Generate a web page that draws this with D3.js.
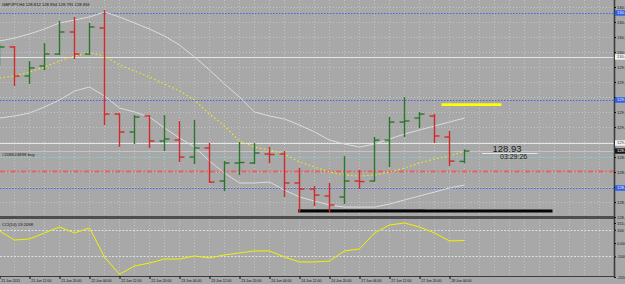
<!DOCTYPE html>
<html>
<head>
<meta charset="utf-8">
<script src="https://cdn.jsdelivr.net/npm/d3@7"></script>
<style>
  body { margin: 0; background: #a8a8a8; }
  svg { display: block; font-family: "Liberation Sans", Arial, sans-serif; }
</style>
</head>
<body>
<svg id="drawing_region"></svg>
<script>
// GBPJPY H4 bars, one entry per bar
const times = ["21 Jun 04:00", "21 Jun 08:00", "21 Jun 12:00", "21 Jun 16:00", "21 Jun 20:00", "22 Jun 00:00",
    "22 Jun 04:00", "22 Jun 08:00", "22 Jun 12:00", "22 Jun 16:00", "22 Jun 20:00", "23 Jun 00:00",
    "23 Jun 04:00", "23 Jun 08:00", "23 Jun 12:00", "23 Jun 16:00", "23 Jun 20:00", "24 Jun 00:00",
    "24 Jun 04:00", "24 Jun 08:00", "24 Jun 12:00", "24 Jun 16:00", "24 Jun 20:00", "27 Jun 00:00",
    "27 Jun 04:00", "27 Jun 08:00", "27 Jun 12:00", "27 Jun 16:00", "27 Jun 20:00", "28 Jun 00:00",
    "28 Jun 04:00", "28 Jun 08:00"];
const open = [130.005, 130.158, 129.816, 129.934, 130.075, 130.334, 130.075, 130.381, 129.369, 129.158, 129.346,
    129.052, 129.063, 128.863, 128.969, 128.581, 128.793, 128.793, 128.899, 128.899, 128.558, 128.487, 128.405,
    128.393, 128.581, 128.581, 129.063, 129.275, 129.322, 129.346, 129.099, 128.812];
const high = [130.193, 130.169, 129.993, 130.205, 130.463, 130.511, 130.440, 130.593, 129.375, 129.358, 129.358,
    129.358, 129.287, 129.299, 129.028, 128.816, 129.040, 129.028, 128.981, 128.934, 128.734, 128.522, 128.558,
    128.875, 128.711, 129.099, 129.334, 129.569, 129.393, 129.369, 129.169, 128.954];
const low = [129.934, 129.699, 129.722, 129.887, 130.063, 130.016, 130.063, 129.240, 128.981, 129.016, 128.969,
    128.934, 128.805, 128.781, 128.558, 128.463, 128.652, 128.781, 128.793, 128.393, 128.216, 128.287, 128.216,
    128.311, 128.487, 128.575, 128.746, 129.099, 129.205, 129.028, 128.758, 128.791];
const close = [130.158, 129.816, 129.911, 130.075, 130.334, 130.075, 130.393, 129.369, 129.158, 129.334, 129.052,
    129.075, 128.863, 128.969, 128.569, 128.793, 128.799, 128.911, 128.893, 128.558, 128.487, 128.416, 128.299,
    128.581, 128.575, 129.063, 129.275, 129.287, 129.369, 129.111, 128.816, 128.934];

// moving average and bands
const ma = [129.793, 129.816, 129.863, 129.922, 129.993, 130.052, 130.087, 130.052, 129.946, 129.875, 129.805,
    129.722, 129.640, 129.534, 129.369, 129.228, 129.052, 128.981, 128.946, 128.899, 128.805, 128.746, 128.687,
    128.652, 128.640, 128.652, 128.687, 128.734, 128.793, 128.840, 128.875, 128.934];
const bandUp = [130.228, 130.263, 130.311, 130.369, 130.440, 130.475, 130.511, 130.569, 130.511, 130.440, 130.369,
    130.287, 130.181, 130.040, 129.887, 129.722, 129.569, 129.393, 129.346, 129.311, 129.240, 129.158, 129.063,
    129.016, 128.981, 129.016, 129.075, 129.134, 129.181, 129.228, 129.275, 129.322];
const bandLow = [129.322, 129.346, 129.381, 129.452, 129.534, 129.640, 129.687, 129.581, 129.440, 129.393, 129.334,
    129.205, 129.087, 128.981, 128.816, 128.675, 128.558, 128.558, 128.569, 128.475, 128.393, 128.346, 128.299,
    128.275, 128.275, 128.275, 128.311, 128.358, 128.405, 128.452, 128.499, 128.534];

// CCI(14)
const cci = [91, 23, 31, 76, 121, 76, 114, -105, -235, -172, -150, -120, -120, -97, -112, -89, -74, -59, -59,
    -105, -142, -142, -135, -59, -44, 76, 136, 151, 121, 76, 16, 19.2098];

// axes
const priceTicks = [130.628, 130.452, 130.275, 130.099, 129.922, 129.746, 129.569, 129.393, 129.216, 129.040,
    128.863, 128.687, 128.510, 128.334, 128.158];
const cciTicks = [151, 100, 0, -100, -255];
const cciTickLabels = ["151.0", "100", "0.00", "-100", "-255"];
const labelIndex = [0, 2, 4, 6, 8, 10, 12, 14, 16, 18, 20, 22, 24, 26, 28, 30];
const labelText = ["21 Jun 2011", "21 Jun 12:00", "21 Jun 20:00", "22 Jun 04:00", "22 Jun 12:00", "22 Jun 20:00",
    "23 Jun 04:00", "23 Jun 12:00", "23 Jun 20:00", "24 Jun 04:00", "24 Jun 12:00", "24 Jun 20:00",
    "27 Jun 04:00", "27 Jun 12:00", "27 Jun 20:00", "28 Jun 04:00"];

// horizontal levels on the chart
const levelPrices = [130.558, 130.040, 129.534, 129.028, 128.934, 128.863, 128.699, 128.499];
const levelKinds = ["blue", "white", "blue", "white", "bid", "order", "stop", "blue"];

// drawn objects: [start bar, end bar, price]
const blackLine = [19.95, 36.9, 128.228];
const greyLine = [19.95, 28.4, 128.246];
const yellowLine = [29.5, 33.5, 129.48];

const levelStyle = {
    blue: { stroke: "#4a63e8", dash: "1.5,1.5", width: 1, box: "#2f5fe4", text: "#ffffff" },
    white: { stroke: "#e6e6e6", dash: null, width: 1, box: "#f2f2f2", text: "#333333" },
    bid: { stroke: "#c4c4c4", dash: null, width: 1, box: "#151515", text: "#ffffff" },
    order: { stroke: "#7ad8d8", dash: "1.5,1.5", width: 1, box: null },
    stop: { stroke: "#e26262", dash: "5,2,1.5,2", width: 2, box: null }
};

const width = 625, height = 284;
const plotRight = 614;
const mainBottom = 216, cciTop = 219, cciBottom = 276;

const svg = d3.select("#drawing_region").attr("width", width).attr("height", height);
svg.append("rect").attr("width", width).attr("height", height).attr("fill", "#a8a8a8");

const xscale = d3.scaleLinear().domain([0, 40]).range([-1, 599]);
const yscale = d3.scaleLinear().domain([128.158, 130.628]).range([217, 7]);
const cscale = d3.scaleLinear().domain([-255, 151]).range([277, 223]);

const defs = svg.append("defs");
defs.append("clipPath").attr("id", "clip_main").append("rect")
    .attr("x", 0).attr("y", 0).attr("width", plotRight).attr("height", mainBottom);
defs.append("clipPath").attr("id", "clip_cci").append("rect")
    .attr("x", 0).attr("y", cciTop).attr("width", plotRight).attr("height", cciBottom - cciTop);

// grid
const grid = svg.append("g")
    .attr("stroke", "#c3c3c3").attr("stroke-width", 1).attr("stroke-dasharray", "1,2");
grid.selectAll(".vgrid").data(d3.range(0, 41)).join("line")
    .attr("x1", d => xscale(d) + 0.5).attr("x2", d => xscale(d) + 0.5)
    .attr("y1", 0).attr("y2", cciBottom);
grid.selectAll(".hgrid").data(priceTicks.slice(0, 14)).join("line")
    .attr("x1", 0).attr("x2", plotRight)
    .attr("y1", d => Math.round(yscale(d)) + 0.5).attr("y2", d => Math.round(yscale(d)) + 0.5);

const main = svg.append("g").attr("clip-path", "url(#clip_main)");

// levels
main.selectAll(".level").data(levelPrices).join("line")
    .attr("x1", 0).attr("x2", plotRight)
    .attr("y1", d => Math.round(yscale(d)) + 0.5).attr("y2", d => Math.round(yscale(d)) + 0.5)
    .attr("stroke", (d, i) => levelStyle[levelKinds[i]].stroke)
    .attr("stroke-width", (d, i) => levelStyle[levelKinds[i]].width)
    .attr("stroke-dasharray", (d, i) => levelStyle[levelKinds[i]].dash);

// bands and ma
const idx = d3.range(times.length);
const bandLine = arr => d3.line().x(i => xscale(i) + 0.5).y(i => yscale(arr[i]))(idx);
main.append("path").attr("d", bandLine(bandUp)).attr("fill", "none").attr("stroke", "#dcdcdc").attr("stroke-width", 1);
main.append("path").attr("d", bandLine(bandLow)).attr("fill", "none").attr("stroke", "#dcdcdc").attr("stroke-width", 1);
main.append("path").attr("d", bandLine(ma)).attr("fill", "none").attr("stroke", "#eeee10")
    .attr("stroke-width", 1.2).attr("stroke-dasharray", "1.5,2.5");

// trend objects
const segment = (seg, color, w) => main.append("line")
    .attr("x1", xscale(seg[0])).attr("x2", xscale(seg[1]))
    .attr("y1", yscale(seg[2])).attr("y2", yscale(seg[2]))
    .attr("stroke", color).attr("stroke-width", w);
segment(greyLine, "#7c7c7c", 1);
segment(blackLine, "#050505", 3);
segment(yellowLine, "#ffff00", 2.6);

// ohlc bars
const barColor = i => close[i] >= open[i] ? "#2a772a" : "#d42a2a";
const bars = main.selectAll(".bar").data(idx).join("g").attr("stroke", barColor).attr("stroke-width", 1.4);
bars.append("line")
    .attr("x1", i => xscale(i) + 0.5).attr("x2", i => xscale(i) + 0.5)
    .attr("y1", i => yscale(high[i])).attr("y2", i => yscale(low[i]));
bars.append("line")
    .attr("x1", i => xscale(i) - 4.5).attr("x2", i => xscale(i) + 0.5)
    .attr("y1", i => yscale(open[i])).attr("y2", i => yscale(open[i]));
bars.append("line")
    .attr("x1", i => xscale(i) + 0.5).attr("x2", i => xscale(i) + 5.5)
    .attr("y1", i => yscale(close[i])).attr("y2", i => yscale(close[i]));

// price tag near the last bar
main.append("line")
    .attr("x1", xscale(32.2)).attr("x2", xscale(35.9))
    .attr("y1", yscale(128.905)).attr("y2", yscale(128.905))
    .attr("stroke", "#e8e8e8").attr("stroke-width", 1);
main.append("text").text("128.93")
    .attr("x", xscale(32.9)).attr("y", yscale(128.924))
    .attr("font-size", 9.5).attr("fill", "#1a1a1a");
main.append("text").text("03:29:26")
    .attr("x", xscale(33.4)).attr("y", yscale(128.84))
    .attr("font-size", 7).attr("fill", "#1a1a1a");

main.append("text").text("GBPJPY,H4  128.812 128.954 128.791 128.934")
    .attr("x", 2).attr("y", 5.5).attr("font-size", 4.2).attr("fill", "#111");
main.append("text").text("#208624898 buy")
    .attr("x", 2).attr("y", yscale(128.88)).attr("font-size", 4.4).attr("fill", "#1a1a1a");

// cci window
const sub = svg.append("g").attr("clip-path", "url(#clip_cci)");
sub.selectAll(".clevel").data([100, -100]).join("line")
    .attr("x1", 0).attr("x2", plotRight)
    .attr("y1", d => Math.round(cscale(d)) + 0.5).attr("y2", d => Math.round(cscale(d)) + 0.5)
    .attr("stroke", "#dedede").attr("stroke-width", 1).attr("stroke-dasharray", "2,1.5");
sub.append("path")
    .attr("d", d3.line().x(i => xscale(i) + 0.5).y(i => cscale(cci[i]))(idx))
    .attr("fill", "none").attr("stroke", "#f2f200").attr("stroke-width", 1);
sub.append("text").text("CCI(14) 19.2098")
    .attr("x", 2).attr("y", 225.5).attr("font-size", 4.2).attr("fill", "#111");

// separators and frame
svg.append("rect").attr("x", 0).attr("y", mainBottom).attr("width", plotRight + 1).attr("height", 3).attr("fill", "#4e4e4e");
svg.append("line").attr("x1", 0).attr("x2", plotRight).attr("y1", cciBottom + 0.5).attr("y2", cciBottom + 0.5)
    .attr("stroke", "#3c3c3c").attr("stroke-width", 1);
svg.append("line").attr("x1", plotRight + 0.5).attr("x2", plotRight + 0.5).attr("y1", 0).attr("y2", cciBottom + 1)
    .attr("stroke", "#3c3c3c").attr("stroke-width", 1.6);

// right price axis, tick labels hidden where a level tag sits
const tagPrices = levelPrices.filter((p, i) => levelStyle[levelKinds[i]].box);
const yaxis = d3.axisRight(yscale).tickValues(priceTicks).tickSize(2).tickPadding(1).tickFormat(d3.format(".3f"));
const yaxis_group = svg.append("g").attr("transform", `translate(${plotRight}, 0)`).call(yaxis);
yaxis_group.select(".domain").remove();
yaxis_group.attr("font-size", 4).attr("font-family", null).style("color", "#111");
yaxis_group.selectAll(".tick text")
    .attr("display", d => tagPrices.some(p => Math.abs(yscale(p) - yscale(d)) < 5) ? "none" : null);

// level tags on the axis
const tagged = levelPrices.map((p, i) => ({ p: p, s: levelStyle[levelKinds[i]] })).filter(d => d.s.box);
const tags = svg.append("g").selectAll(".tag").data(tagged).join("g")
    .attr("transform", d => `translate(${plotRight + 1}, ${yscale(d.p)})`);
tags.append("rect").attr("x", 0).attr("y", -2.7).attr("width", 11).attr("height", 5.4).attr("fill", d => d.s.box);
tags.append("text").text(d => d3.format(".3f")(d.p))
    .attr("x", 2).attr("dy", "0.34em").attr("font-size", 4).attr("fill", d => d.s.text);

// cci axis
const caxis = d3.axisRight(cscale).tickValues(cciTicks).tickSize(2).tickPadding(1)
    .tickFormat((d, i) => cciTickLabels[i]);
const caxis_group = svg.append("g").attr("transform", `translate(${plotRight}, 0)`).call(caxis);
caxis_group.select(".domain").remove();
caxis_group.attr("font-size", 4).attr("font-family", null).style("color", "#111");

// time axis
const xaxis = d3.axisBottom(xscale).tickValues(labelIndex).tickSize(3).tickPadding(1)
    .tickFormat((d, i) => labelText[i]);
const xaxis_group = svg.append("g").attr("transform", `translate(0.5, ${cciBottom})`).call(xaxis);
xaxis_group.select(".domain").remove();
xaxis_group.attr("font-size", 3.5).attr("font-family", null).style("color", "#111");
xaxis_group.selectAll("text").attr("text-anchor", "start").attr("x", 1.2);
</script>
</body>
</html>
